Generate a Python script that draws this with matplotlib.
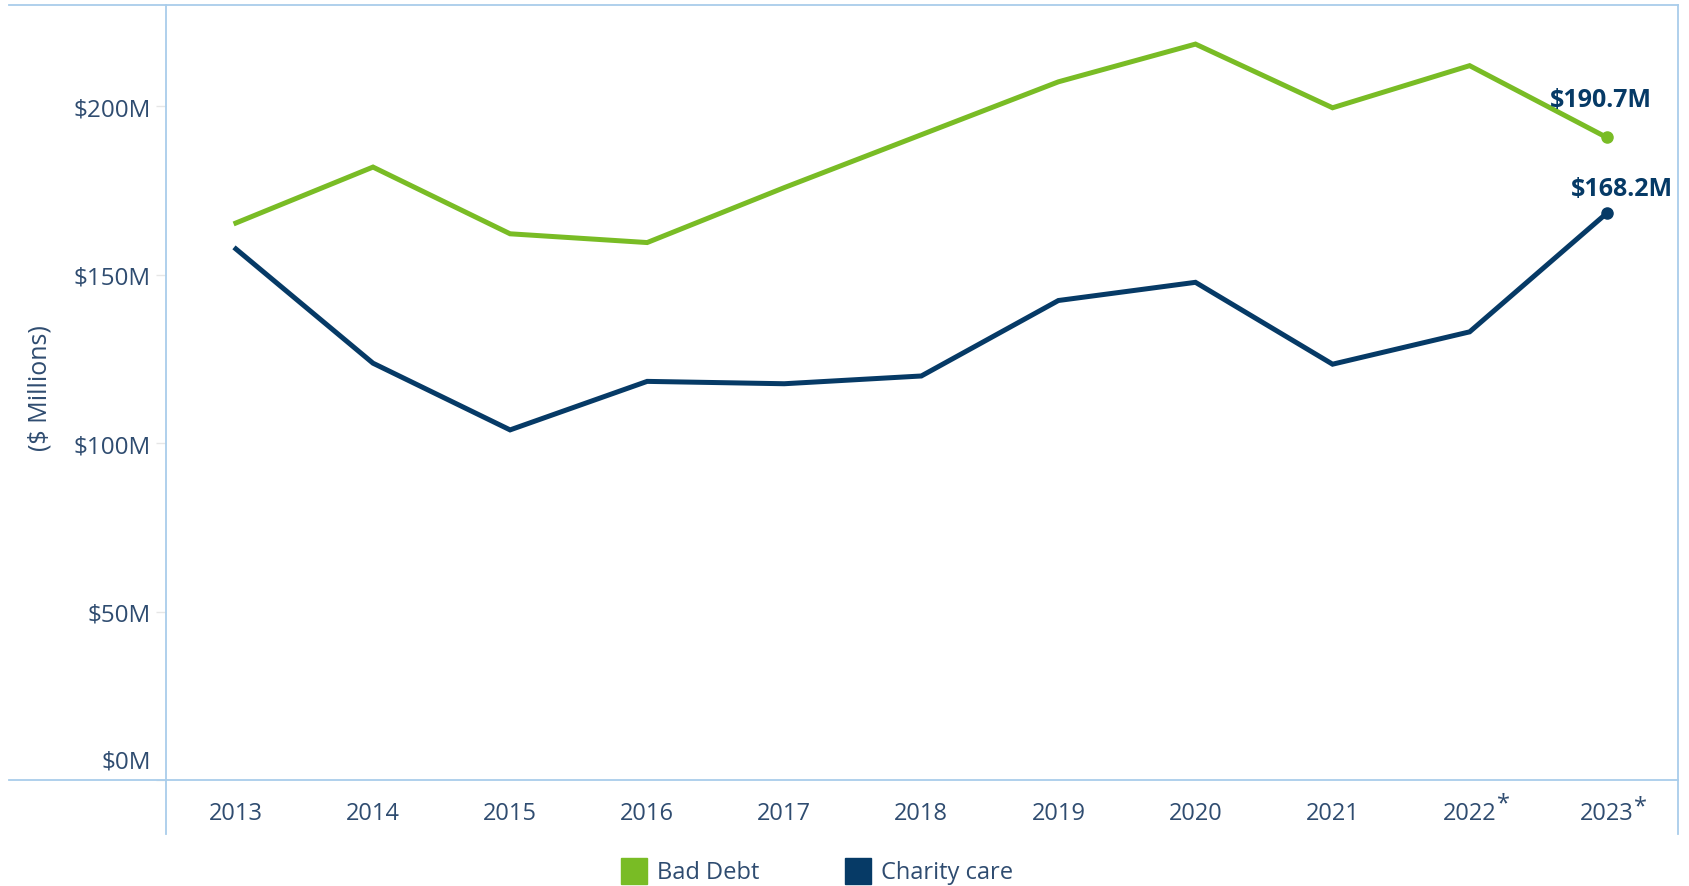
import matplotlib
matplotlib.use("Agg")
import matplotlib.pyplot as plt
from matplotlib.lines import Line2D
from matplotlib.patches import Rectangle

# ---------------------------------------------------------------------------
# Data ($ millions)
# ---------------------------------------------------------------------------
YEARS = ["2013", "2014", "2015", "2016", "2017", "2018",
         "2019", "2020", "2021", "2022*", "2023*"]
BAD_DEBT = [165.3, 181.9, 162.1, 159.5, 175.8, 191.5,
            207.2, 218.4, 199.5, 212.0, 190.7]
CHARITY_CARE = [157.6, 123.7, 103.9, 118.3, 117.6, 119.9,
                142.3, 147.7, 123.4, 133.0, 168.2]
Y_TICKS = [0, 50, 100, 150, 200]

# ---------------------------------------------------------------------------
# Style
# ---------------------------------------------------------------------------
GREEN = "#79BC25"
NAVY = "#063A66"
TEXT = "#2F4C70"
FRAME = "#A9CDEB"
FS = 17
plt.rcParams["font.family"] = ["Open Sans", "DejaVu Sans"]

W, H, DPI = 1689, 887, 100
fig = plt.figure(figsize=(W / DPI, H / DPI), dpi=DPI)

# plot area in pixel units -> figure fractions
left_px, right_px, top_px, bottom_px = 166, 1678, 6, 781
ax = fig.add_axes([left_px / W, 1 - bottom_px / H,
                   (right_px - left_px) / W, (bottom_px - top_px) / H])

x = list(range(len(YEARS)))
ax.plot(x, BAD_DEBT, color=GREEN, lw=3.6, solid_joinstyle="miter")
ax.plot(x, CHARITY_CARE, color=NAVY, lw=3.6, solid_joinstyle="miter")
ax.plot(x[-1], BAD_DEBT[-1], "o", color=GREEN, ms=8)
ax.plot(x[-1], CHARITY_CARE[-1], "o", color=NAVY, ms=8)

ax.annotate(f"${BAD_DEBT[-1]:.1f}M", (x[-1], BAD_DEBT[-1]),
            xytext=(-4, 27), textcoords="offset points", ha="center", va="center",
            fontsize=18, fontweight="bold", color=NAVY)
ax.annotate(f"${CHARITY_CARE[-1]:.1f}M", (x[-1], CHARITY_CARE[-1]),
            xytext=(11, 18), textcoords="offset points", ha="center", va="center",
            fontsize=18, fontweight="bold", color=NAVY)

ax.set_xlim(-0.51, 10.52)
ax.set_ylim(0, 230)
ax.set_xticks(x)
ax.set_xticklabels([y.replace("*", "") for y in YEARS])
ax.set_yticks(Y_TICKS)
ax.set_yticklabels(["" if v == 0 else f"${v}M" for v in Y_TICKS])
for sp in ax.spines.values():
    sp.set_visible(False)
ax.tick_params(axis="y", length=7, width=1, color="#E6E6E6", pad=4,
               labelsize=FS + 0.5, labelcolor=TEXT)
ax.tick_params(axis="x", length=0, pad=15, labelsize=FS, labelcolor=TEXT)

# the zero label sits just above the baseline
ax.annotate("$0M", (0, 0), xycoords="axes fraction", xytext=(-11, 13),
            textcoords="offset points", ha="right", va="center",
            fontsize=FS + 0.5, color=TEXT, annotation_clip=False)

# asterisks on the projected years
for xi, lab in zip(x, YEARS):
    if lab.endswith("*"):
        dy = -17 if lab.startswith("2022") else -19
        ax.annotate("*", (xi, 0), xytext=(24, dy), textcoords="offset points",
                    ha="center", va="center", fontsize=FS, color=TEXT,
                    annotation_clip=False)

fig.text(40 / W, 1 - 388 / H, "($ Millions)", rotation=90, ha="center",
         va="center", fontsize=18, color=TEXT)

# table-style frame lines
def hline(y, x0, x1):
    fig.add_artist(Line2D([x0 / W, x1 / W], [1 - y / H, 1 - y / H],
                          color=FRAME, lw=1.3))

def vline(xp, y0, y1):
    fig.add_artist(Line2D([xp / W, xp / W], [1 - y0 / H, 1 - y1 / H],
                          color=FRAME, lw=1.3))

hline(top_px, 9, right_px)
hline(bottom_px, 9, right_px)
vline(left_px, top_px, 835)
vline(right_px, top_px, 835)

# legend
for xs, label, col in [(621, "Bad Debt", GREEN), (845, "Charity care", NAVY)]:
    fig.add_artist(Rectangle((xs / W, 1 - 885 / H), 26 / W, 26 / H,
                             transform=fig.transFigure, color=col))
    fig.text((xs + 36) / W, 1 - 873 / H, label, ha="left", va="center",
             fontsize=FS, color=TEXT)

fig.savefig("out.png", dpi=DPI)
